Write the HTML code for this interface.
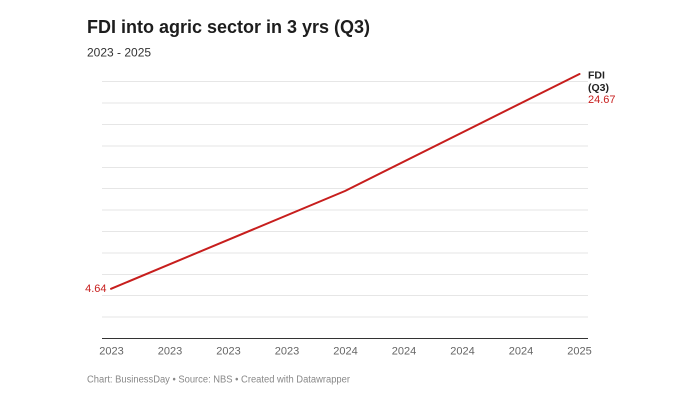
<!DOCTYPE html>
<html>
<head>
<meta charset="utf-8">
<style>
  html, body { margin:0; padding:0; background:#fff; }
  body { width:700px; height:400px; overflow:hidden; }
  svg { display:block; font-family:"Liberation Sans", Arial, sans-serif; }
</style>
</head>
<body>
<svg width="700" height="400" viewBox="0 0 700 400" xmlns="http://www.w3.org/2000/svg">
  <rect width="700" height="400" fill="#ffffff"/>
  <!-- Title -->
  <text x="87" y="33" font-size="18" font-weight="bold" fill="#1d1d1d" textLength="283" lengthAdjust="spacingAndGlyphs">FDI into agric sector in 3 yrs (Q3)</text>
  <text x="87" y="56.5" font-size="12" fill="#333">2023 - 2025</text>

  <!-- Gridlines -->
  <g stroke="#e6e6e6" stroke-width="1">
    <line x1="102" x2="588" y1="81.5" y2="81.5"/>
    <line x1="102" x2="588" y1="103" y2="103"/>
    <line x1="102" x2="588" y1="124.5" y2="124.5"/>
    <line x1="102" x2="588" y1="146" y2="146"/>
    <line x1="102" x2="588" y1="167.5" y2="167.5"/>
    <line x1="102" x2="588" y1="188.5" y2="188.5"/>
    <line x1="102" x2="588" y1="210" y2="210"/>
    <line x1="102" x2="588" y1="231.5" y2="231.5"/>
    <line x1="102" x2="588" y1="253" y2="253"/>
    <line x1="102" x2="588" y1="274.5" y2="274.5"/>
    <line x1="102" x2="588" y1="295.5" y2="295.5"/>
    <line x1="102" x2="588" y1="317" y2="317"/>
  </g>
  <!-- Axis -->
  <line x1="102" x2="588" y1="338.5" y2="338.5" stroke="#333" stroke-width="1"/>

  <!-- X labels -->
  <g font-size="11" fill="#666" text-anchor="middle">
    <text x="111.5" y="354.5">2023</text>
    <text x="170" y="354.5">2023</text>
    <text x="228.5" y="354.5">2023</text>
    <text x="287" y="354.5">2023</text>
    <text x="345.5" y="354.5">2024</text>
    <text x="404" y="354.5">2024</text>
    <text x="462.5" y="354.5">2024</text>
    <text x="521" y="354.5">2024</text>
    <text x="579.5" y="354.5">2025</text>
  </g>

  <!-- Series -->
  <polyline points="111,288.8 345,191 579.5,74" fill="none" stroke="#c71e1d" stroke-width="2" stroke-linejoin="round" stroke-linecap="round"/>

  <!-- Labels -->
  <text x="106.5" y="292" font-size="11" fill="#c71e1d" text-anchor="end">4.64</text>
  <text x="588" y="78.5" font-size="10.5" font-weight="bold" fill="#222">FDI</text>
  <text x="588" y="91" font-size="10.5" font-weight="bold" fill="#222">(Q3)</text>
  <text x="588" y="103" font-size="11" fill="#c71e1d">24.67</text>

  <!-- Footer -->
  <text x="87" y="382.5" font-size="10" fill="#888" textLength="263" lengthAdjust="spacingAndGlyphs">Chart: BusinessDay • Source: NBS • Created with Datawrapper</text>
</svg>
</body>
</html>
